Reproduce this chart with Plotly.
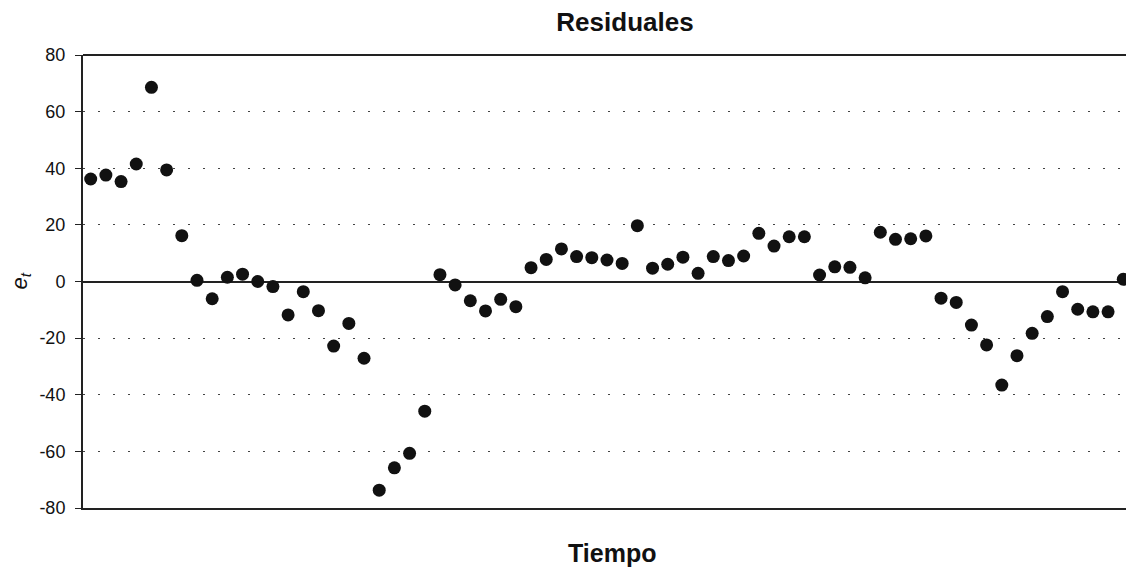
import plotly.graph_objects as go

# Residuals e_t over time (observation index 1..69)
periods = list(range(1, 70))
residuals = [
    36.2, 37.6, 35.3, 41.5, 68.6, 39.4, 16.2, 0.4, -6.1, 1.5,
    2.6, 0.0, -1.8, -11.8, -3.6, -10.3, -22.8, -14.8, -27.1, -73.7,
    -65.8, -60.7, -45.8, 2.4, -1.2, -6.8, -10.4, -6.3, -8.9, 4.9,
    7.8, 11.5, 8.8, 8.4, 7.6, 6.4, 19.7, 4.7, 6.1, 8.6,
    2.9, 8.8, 7.4, 9.0, 17.0, 12.5, 15.8, 15.8, 2.3, 5.2,
    5.0, 1.3, 17.4, 14.9, 15.1, 16.1, -5.9, -7.4, -15.4, -22.4,
    -36.6, -26.2, -18.3, -12.4, -3.6, -9.8, -10.7, -10.7, 0.8,
]
y_ticks = [80, 60, 40, 20, 0, -20, -40, -60, -80]

FONT = "Liberation Sans, Arial, sans-serif"
INK = "#111111"

fig = go.Figure()
fig.add_trace(go.Scatter(
    x=periods, y=residuals, mode="markers",
    marker=dict(size=13, color=INK, line=dict(width=0)),
    hoverinfo="x+y", showlegend=False,
))

fig.update_layout(
    width=1126, height=570,
    margin=dict(l=83, r=0, t=55, b=62),
    paper_bgcolor="white", plot_bgcolor="white",
    font=dict(family=FONT, color=INK),
    title=dict(
        text="<b>Residuales</b>", font=dict(size=26, family=FONT, color=INK),
        x=625 / 1126, xanchor="center", xref="container",
        y=1 - 22 / 570, yanchor="middle", yref="container",
    ),
    xaxis=dict(
        range=[0.493, 69.18], showticklabels=False, ticks="",
        showgrid=False, zeroline=False,
        showline=True, linecolor="#222222", linewidth=2, mirror=False,
    ),
    yaxis=dict(
        range=[-80, 80], tickvals=y_ticks, ticktext=[str(v) for v in y_ticks],
        tickfont=dict(size=18, family=FONT, color=INK),
        ticks="outside", ticklen=6, tickcolor="#222222", tickwidth=1,
        ticklabelstandoff=6,
        showgrid=True, gridcolor="#444444", gridwidth=1, griddash="2px,13px",
        zeroline=True, zerolinecolor="#222222", zerolinewidth=1.5,
        showline=True, linecolor="#222222", linewidth=2,
    ),
    annotations=[
        dict(text="<b>Tiempo</b>", xref="paper", yref="paper",
             x=(612 - 83) / 1043, y=-(553 - 508) / 453,
             xanchor="center", yanchor="middle", showarrow=False,
             font=dict(size=25, family=FONT, color=INK)),
        dict(text="<i>e<sub>t</sub></i>", xref="paper", yref="y",
             x=(20 - 83) / 1043, y=0, textangle=-90,
             xanchor="center", yanchor="middle", showarrow=False,
             font=dict(size=22, family=FONT, color=INK)),
    ],
    shapes=[
        # upper frame line of the plotting area
        dict(type="line", xref="paper", yref="paper", x0=0, x1=1, y0=1, y1=1,
             line=dict(color="#222222", width=2)),
    ],
)

fig.write_html("out.html")
